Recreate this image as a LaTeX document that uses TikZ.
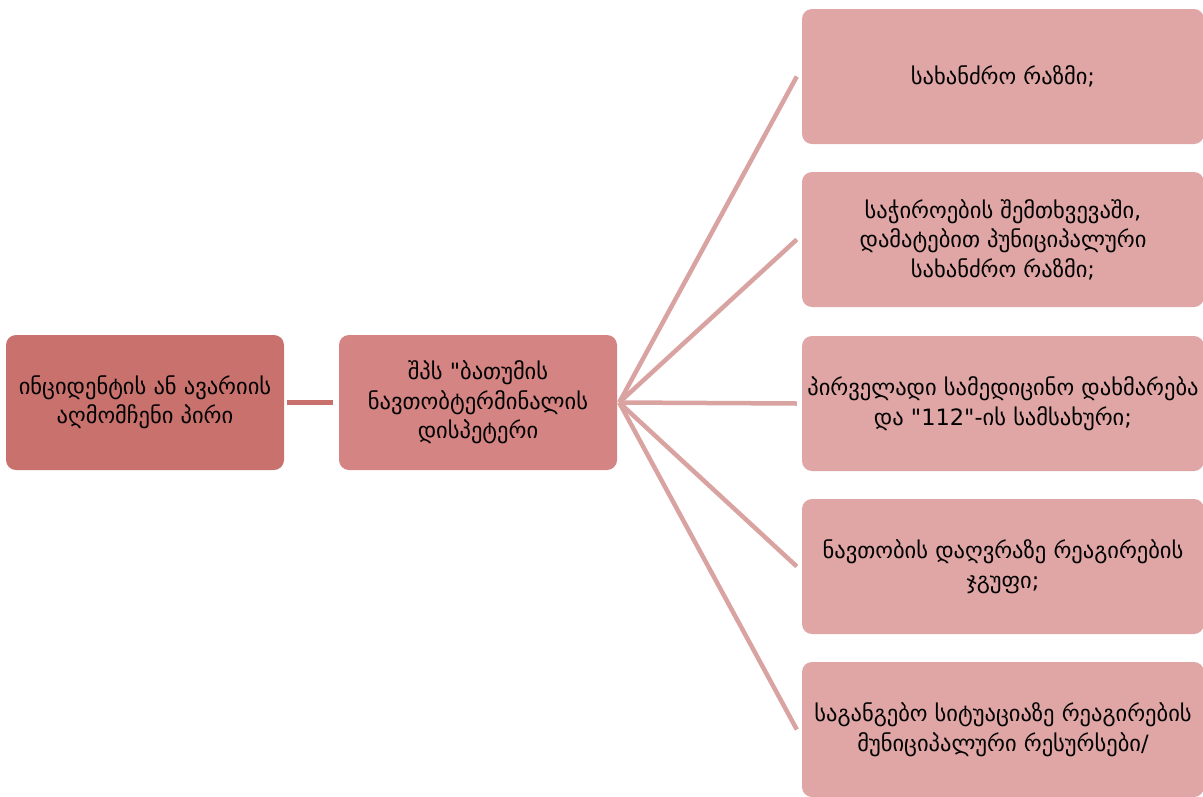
\documentclass[tikz,border=0pt]{standalone}
\usepackage{fontspec}
\newfontfamily\geo{DejaVu Sans}
\begin{document}
\begin{tikzpicture}[x=1pt,y=-1pt,
  box/.style={rounded corners=10pt, inner sep=0pt, align=center, text=black,
    font=\geo\fontsize{22.5}{29.5}\selectfont},
  lvl1/.style={box, fill=c1},
  lvl2/.style={box, fill=c2},
  lvl3/.style={box, fill=c3},
  link/.style={line width=4.5pt, draw=c4},
]
\definecolor{c1}{HTML}{C9716D}
\definecolor{c2}{HTML}{D48482}
\definecolor{c3}{HTML}{DFA6A5}
\definecolor{c4}{HTML}{D9A3A2}
\definecolor{c5}{HTML}{C8706C}
\useasboundingbox (0,0) rectangle (1203,796);
\clip (0,0) rectangle (1203,796);
\node[lvl1, minimum width=278pt, minimum height=135pt] (a) at (145,402.5) {ინციდენტის ან ავარიის\\აღმომჩენი პირი};
\node[lvl2, minimum width=278pt, minimum height=135pt] (b) at (478,402.5) {შპს "ბათუმის\\ნავთობტერმინალის\\დისპეტერი};
\node[lvl3, minimum width=402pt, minimum height=135pt] (r1) at (1003,76.5) {სახანძრო რაზმი;};
\node[lvl3, minimum width=402pt, minimum height=135pt] (r2) at (1003,239.5) {საჭიროების შემთხვევაში,\\დამატებით პუნიციპალური\\სახანძრო რაზმი;};
\node[lvl3, minimum width=402pt, minimum height=135pt] (r3) at (1003,403.5) {პირველადი სამედიცინო დახმარება\\და "112"-ის სამსახური;};
\node[lvl3, minimum width=402pt, minimum height=135pt] (r4) at (1003,566.5) {ნავთობის დაღვრაზე რეაგირების\\ჯგუფი;};
\node[lvl3, minimum width=402pt, minimum height=135pt] (r5) at (1003,729.5) {საგანგებო სიტუაციაზე რეაგირების\\მუნიციპალური რესურსები/};
\draw[link, draw=c5] ([xshift=3pt]a.east) -- ([xshift=-6pt]b.west);
\foreach \r in {r1,r2,r3,r4,r5}
  \draw[link] ([xshift=2pt]b.east) -- ([xshift=-5pt]\r.west);
\end{tikzpicture}
\end{document}
